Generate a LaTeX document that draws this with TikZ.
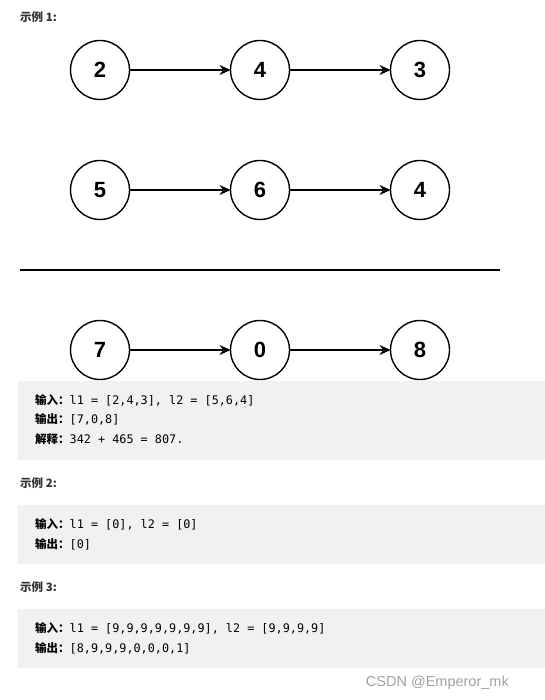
\documentclass[tikz,border=0pt]{standalone}
\usepackage{fontspec}
\setmainfont{Liberation Sans}
\setmonofont{DejaVu Sans Mono}
\newfontfamily\cjk{Noto Sans CJK SC}
\usetikzlibrary{arrows.meta,positioning}

\definecolor{codebg}{HTML}{F0F1F3}
\definecolor{titlegray}{HTML}{333333}
\definecolor{markgray}{HTML}{A0A0A0}
\newcommand{\lab}[1]{{\cjk\bfseries\fontsize{11.5}{13}\selectfont #1}}

\begin{document}
\begin{tikzpicture}[x=1pt,y=-1pt,
      num/.style={draw,circle,line width=1.4pt,minimum size=59pt,inner sep=0pt,outer sep=0pt,
        font=\fontsize{22}{22}\selectfont\bfseries},
      arr/.style={-{Stealth[length=11pt,width=10pt]},line width=1.1pt},
      title/.style={anchor=west,inner sep=0pt,text=titlegray,font=\cjk\bfseries\fontsize{11.5}{13}\selectfont},
      code/.style={anchor=west,inner sep=0pt,font=\fontsize{11.8}{13}\selectfont}
    ]
      \useasboundingbox (0,0) rectangle (545,700);
      \node[title] (t1) at (20,17) {示例 1:};

      % first number: 342
      \node[num] (a1) at (100,70) {2};
      \node[num,right=101pt of a1] (a2) {4};
      \node[num,right=101pt of a2] (a3) {3};
      \draw[arr] (a1) -- (a2);
      \draw[arr] (a2) -- (a3);

      % second number: 465
      \node[num] (b1) at (100,190) {5};
      \node[num,right=101pt of b1] (b2) {6};
      \node[num,right=101pt of b2] (b3) {4};
      \draw[arr] (b1) -- (b2);
      \draw[arr] (b2) -- (b3);

      \coordinate (sepl) at (20,270);
      \coordinate (sepr) at (500,270);
      \draw[line width=1.5pt] (sepl) -- (sepr);

      % sum: 807
      \node[num] (c1) at (100,350) {7};
      \node[num,right=101pt of c1] (c2) {0};
      \node[num,right=101pt of c2] (c3) {8};
      \draw[arr] (c1) -- (c2);
      \draw[arr] (c2) -- (c3);

      \fill[codebg] (18,381) rectangle (545,460);
      \node[code] (in1) at (35,400) {\lab{输入：}\texttt{l1 = [2,4,3], l2 = [5,6,4]}};
      \node[code] (out1) at (35,419.5) {\lab{输出：}\texttt{[7,0,8]}};
      \node[code] (ex1) at (35,439) {\lab{解释：}\texttt{342 + 465 = 807.}};

      \node[title] (t2) at (20,483) {示例 2:};
      \fill[codebg] (18,505) rectangle (545,564);
      \node[code] (in2) at (35,524) {\lab{输入：}\texttt{l1 = [0], l2 = [0]}};
      \node[code] (out2) at (35,544) {\lab{输出：}\texttt{[0]}};

      \node[title] (t3) at (20,587) {示例 3:};
      \fill[codebg] (18,609) rectangle (545,668);
      \node[code] (in3) at (35,628) {\lab{输入：}\texttt{l1 = [9,9,9,9,9,9,9], l2 = [9,9,9,9]}};
      \node[code] (out3) at (35,648) {\lab{输出：}\texttt{[8,9,9,9,0,0,0,1]}};

      \node[anchor=east,inner sep=0pt,text=markgray,font=\fontsize{14.5}{15}\selectfont] (mark) at (509,683) {CSDN @Emperor\_mk};
    \end{tikzpicture}
\end{document}
